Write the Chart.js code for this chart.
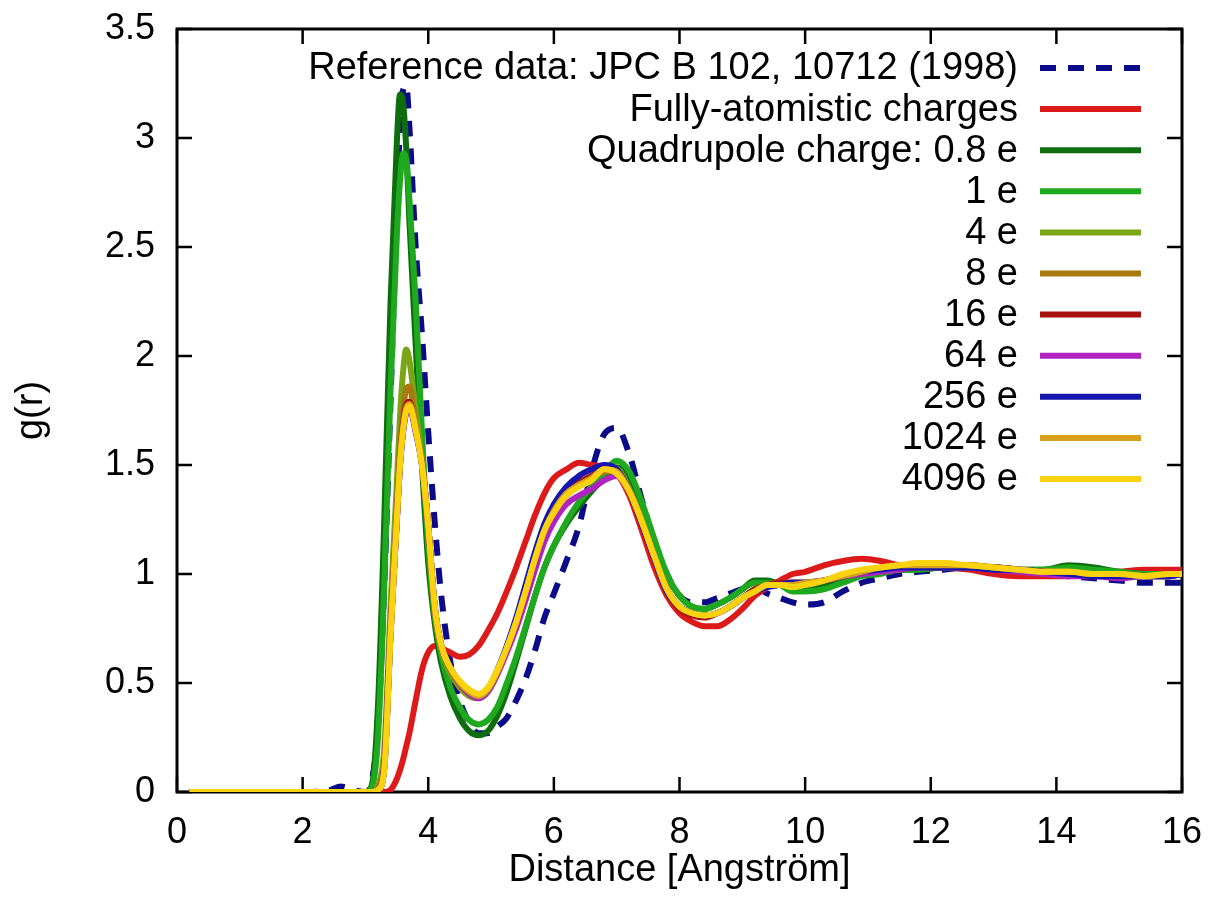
<!DOCTYPE html>
<html>
<head>
<meta charset="utf-8">
<script src="https://cdn.jsdelivr.net/npm/chart.js@4.4.1/dist/chart.umd.min.js"></script>
<style>
  body { margin: 0; background: #fff; }
  #rdf { display: block; }
</style>
</head>
<body>
<canvas id="rdf" width="1212" height="914"></canvas>
<script>
// distance grid (Angstrom) shared by all curves
const distance = [
  0.2, 1.0, 2.0, 2.4, 2.6, 2.8, 3.0, 3.1, 3.2, 3.3,
  3.4, 3.5, 3.55, 3.6, 3.65, 3.7, 3.8, 3.9, 4.0, 4.1,
  4.2, 4.35, 4.5, 4.65, 4.8, 4.95, 5.1, 5.25, 5.4, 5.55,
  5.7, 5.85, 6.0, 6.2, 6.4, 6.6, 6.8, 7.0, 7.2, 7.4,
  7.6, 7.8, 8.0, 8.2, 8.4, 8.6, 8.8, 9.0, 9.2, 9.4,
  9.6, 9.8, 10.0, 10.3, 10.6, 10.9, 11.2, 11.5, 11.8, 12.2,
  12.6, 13.0, 13.4, 13.8, 14.2, 14.6, 15.0, 15.4, 15.8, 16.0
];

const gRef = [
  0, 0, 0, 0.005, 0.025, 0.01, 0, 0.05, 0.3, 0.95,
  1.8, 2.7, 3.05, 3.22, 3.24, 3.05, 2.5, 2.1, 1.65, 1.25,
  0.92, 0.6, 0.42, 0.32, 0.27, 0.27, 0.3, 0.34, 0.42, 0.52,
  0.65, 0.8, 0.91, 1.06, 1.22, 1.47, 1.64, 1.67, 1.55, 1.34,
  1.15, 1.0, 0.9, 0.87, 0.87, 0.89, 0.91, 0.93, 0.94, 0.91,
  0.89, 0.87, 0.86, 0.87, 0.92, 0.96, 0.98, 1.0, 1.01, 1.02,
  1.03, 1.03, 1.02, 1.0, 0.99, 0.98, 0.97, 0.96, 0.96, 0.96
];
const gAtomistic = [
  0, 0, 0, 0, 0, 0, 0, 0, 0, 0,
  0.01, 0.06, 0.1, 0.15, 0.21, 0.27, 0.42, 0.56, 0.64, 0.67,
  0.66, 0.64, 0.62, 0.63, 0.67, 0.74, 0.82, 0.92, 1.03, 1.15,
  1.27, 1.37, 1.44, 1.48, 1.51, 1.5, 1.49, 1.46, 1.36, 1.2,
  1.03, 0.9, 0.82, 0.78, 0.76, 0.76, 0.79, 0.84, 0.9, 0.94,
  0.97, 1.0, 1.01, 1.04, 1.06, 1.07, 1.06, 1.04, 1.03, 1.03,
  1.02, 1.0, 0.99, 0.99, 0.99, 1.0, 1.01, 1.02, 1.02, 1.02
];
const gQ08 = [
  0, 0, 0, 0, 0, 0, 0, 0.03, 0.4, 1.25,
  2.25, 2.98, 3.2, 3.16, 2.95, 2.62, 2.05, 1.5, 1.05, 0.78,
  0.6, 0.44, 0.34, 0.28, 0.26, 0.28, 0.35, 0.46, 0.6, 0.75,
  0.9, 1.03, 1.13, 1.23, 1.31, 1.38, 1.44, 1.49, 1.45, 1.3,
  1.14, 0.99, 0.9, 0.85, 0.84, 0.86, 0.89, 0.93, 0.97, 0.97,
  0.95, 0.93, 0.93, 0.95, 0.98, 1.0, 1.01, 1.02, 1.02, 1.03,
  1.03, 1.03, 1.02, 1.02, 1.04, 1.03, 1.01, 1.0, 1.0, 1.0
];
const gQ1 = [
  0, 0, 0, 0, 0, 0, 0, 0.02, 0.25, 0.95,
  1.85, 2.55, 2.8, 2.93, 2.9, 2.72, 2.25, 1.65, 1.13, 0.82,
  0.64, 0.48, 0.39, 0.33, 0.31, 0.33, 0.39, 0.5, 0.62, 0.76,
  0.9, 1.03, 1.13, 1.24, 1.33, 1.4, 1.46, 1.52, 1.47, 1.33,
  1.16, 1.0, 0.9, 0.85, 0.84, 0.86, 0.89, 0.93, 0.96, 0.96,
  0.95, 0.92, 0.92, 0.93, 0.96, 0.99, 1.0, 1.02, 1.02, 1.03,
  1.03, 1.03, 1.02, 1.02, 1.03, 1.02, 1.01, 1.0, 1.0, 1.0
];
const gQ4 = [
  0, 0, 0, 0, 0, 0, 0, 0, 0.03, 0.2,
  0.85, 1.42, 1.72, 1.93, 2.03, 1.98, 1.75, 1.52, 1.2, 0.84,
  0.66, 0.55, 0.48, 0.44, 0.43, 0.46, 0.54, 0.65, 0.77, 0.91,
  1.06, 1.19, 1.28, 1.36, 1.41, 1.44, 1.47, 1.48, 1.39, 1.25,
  1.08, 0.93, 0.85, 0.82, 0.81, 0.82, 0.85, 0.89, 0.93, 0.95,
  0.95, 0.95, 0.95, 0.97, 0.99, 1.01, 1.02, 1.03, 1.04, 1.04,
  1.04, 1.03, 1.02, 1.01, 1.01, 1.0, 1.0, 0.99, 0.99, 1.0
];
const gQ8 = [
  0, 0, 0, 0, 0, 0, 0, 0, 0.02, 0.15,
  0.78, 1.3, 1.57, 1.75, 1.85, 1.86, 1.68, 1.52, 1.22, 0.85,
  0.67, 0.56, 0.49, 0.45, 0.44, 0.47, 0.55, 0.66, 0.78, 0.92,
  1.06, 1.19, 1.28, 1.36, 1.41, 1.44, 1.47, 1.47, 1.38, 1.24,
  1.08, 0.93, 0.85, 0.82, 0.81, 0.82, 0.85, 0.89, 0.92, 0.95,
  0.96, 0.96, 0.96, 0.97, 0.99, 1.01, 1.02, 1.03, 1.04, 1.04,
  1.04, 1.03, 1.02, 1.01, 1.0, 1.0, 1.0, 0.99, 1.0, 1.0
];
const gQ16 = [
  0, 0, 0, 0, 0, 0, 0, 0, 0.01, 0.12,
  0.74, 1.26, 1.52, 1.69, 1.78, 1.79, 1.66, 1.51, 1.22, 0.86,
  0.68, 0.57, 0.5, 0.46, 0.44, 0.47, 0.55, 0.65, 0.77, 0.91,
  1.06, 1.19, 1.28, 1.37, 1.42, 1.45, 1.48, 1.47, 1.38, 1.23,
  1.07, 0.92, 0.84, 0.81, 0.8, 0.82, 0.85, 0.89, 0.93, 0.95,
  0.96, 0.96, 0.96, 0.97, 0.99, 1.01, 1.02, 1.03, 1.03, 1.04,
  1.03, 1.03, 1.02, 1.01, 1.0, 1.0, 0.99, 0.99, 0.99, 1.0
];
const gQ64 = [
  0, 0, 0, 0, 0, 0, 0, 0, 0.01, 0.11,
  0.72, 1.24, 1.49, 1.65, 1.74, 1.76, 1.65, 1.5, 1.22, 0.86,
  0.68, 0.57, 0.5, 0.45, 0.43, 0.46, 0.54, 0.64, 0.75, 0.88,
  1.02, 1.15, 1.24, 1.32, 1.36, 1.39, 1.43, 1.45, 1.38, 1.24,
  1.08, 0.93, 0.85, 0.82, 0.81, 0.82, 0.85, 0.89, 0.92, 0.94,
  0.95, 0.96, 0.96, 0.97, 0.99, 1.0, 1.01, 1.02, 1.03, 1.03,
  1.03, 1.02, 1.01, 1.0, 0.99, 0.99, 0.98, 0.99, 0.99, 1.0
];
const gQ256 = [
  0, 0, 0, 0, 0, 0, 0, 0, 0.01, 0.11,
  0.73, 1.25, 1.5, 1.66, 1.75, 1.77, 1.66, 1.5, 1.22, 0.86,
  0.68, 0.57, 0.5, 0.46, 0.44, 0.47, 0.56, 0.67, 0.8, 0.95,
  1.1, 1.23, 1.32, 1.4, 1.45, 1.48, 1.5, 1.48, 1.38, 1.23,
  1.07, 0.92, 0.85, 0.82, 0.81, 0.82, 0.85, 0.89, 0.92, 0.94,
  0.95, 0.96, 0.96, 0.97, 0.99, 1.01, 1.02, 1.03, 1.03, 1.03,
  1.03, 1.02, 1.02, 1.01, 1.0, 0.99, 0.99, 0.99, 0.99, 1.0
];
const gQ1024 = [
  0, 0, 0, 0, 0, 0, 0, 0, 0.01, 0.11,
  0.73, 1.26, 1.51, 1.67, 1.76, 1.78, 1.67, 1.5, 1.22, 0.86,
  0.68, 0.57, 0.5, 0.46, 0.44, 0.47, 0.55, 0.66, 0.78, 0.92,
  1.07, 1.2, 1.29, 1.37, 1.41, 1.44, 1.48, 1.47, 1.38, 1.24,
  1.08, 0.93, 0.85, 0.82, 0.81, 0.82, 0.85, 0.89, 0.92, 0.95,
  0.95, 0.95, 0.96, 0.97, 0.99, 1.01, 1.03, 1.04, 1.04, 1.04,
  1.04, 1.03, 1.02, 1.01, 1.01, 1.0, 1.0, 0.99, 1.0, 1.0
];
const gQ4096 = [
  0, 0, 0, 0, 0, 0, 0, 0, 0.01, 0.1,
  0.72, 1.25, 1.5, 1.66, 1.75, 1.77, 1.66, 1.5, 1.22, 0.86,
  0.68, 0.57, 0.51, 0.47, 0.45, 0.48, 0.56, 0.66, 0.78, 0.92,
  1.07, 1.2, 1.28, 1.36, 1.4, 1.43, 1.48, 1.46, 1.38, 1.24,
  1.08, 0.93, 0.85, 0.82, 0.81, 0.82, 0.85, 0.89, 0.92, 0.95,
  0.95, 0.94, 0.95, 0.97, 1.0, 1.02, 1.03, 1.04, 1.05, 1.05,
  1.04, 1.03, 1.02, 1.01, 1.01, 1.0, 1.0, 0.99, 1.0, 1.0
];

const seriesLabels = [
  'Reference data: JPC B 102, 10712 (1998)',
  'Fully-atomistic charges',
  'Quadrupole charge: 0.8 e',
  '1 e', '4 e', '8 e', '16 e', '64 e', '256 e', '1024 e', '4096 e'
];
const seriesValues = [gRef, gAtomistic, gQ08, gQ1, gQ4, gQ8, gQ16, gQ64, gQ256, gQ1024, gQ4096];
const seriesColors = [
  '#0b0b8a', '#dd1a1a', '#0e6e0e', '#1fa91f', '#7aa615', '#a9780f',
  '#a8120e', '#b023c0', '#1616ae', '#d6a01c', '#fbd20f'
];

const xTicks = [0, 2, 4, 6, 8, 10, 12, 14, 16];
const yTicks = [0, 0.5, 1, 1.5, 2, 2.5, 3, 3.5];

const FONT = '"Liberation Sans", Arial, sans-serif';

// gnuplot-like frame with inward ticks on all four sides
const framePlugin = {
  id: 'frame',
  beforeDatasetsDraw(chart) {
    const ctx = chart.ctx;
    const a = chart.chartArea;
    const xs = chart.scales.x, ys = chart.scales.y;
    const len = 15;
    ctx.save();
    ctx.strokeStyle = '#000';
    ctx.lineWidth = 2.5;
    ctx.beginPath();
    xTicks.forEach(v => {
      const px = xs.getPixelForValue(v);
      ctx.moveTo(px, a.bottom); ctx.lineTo(px, a.bottom - len);
      ctx.moveTo(px, a.top); ctx.lineTo(px, a.top + len);
    });
    yTicks.forEach(v => {
      const py = ys.getPixelForValue(v);
      ctx.moveTo(a.left, py); ctx.lineTo(a.left + len, py);
      ctx.moveTo(a.right, py); ctx.lineTo(a.right - len, py);
    });
    ctx.stroke();
    ctx.lineWidth = 3;
    ctx.strokeRect(a.left, a.top, a.right - a.left, a.bottom - a.top);
    ctx.restore();
  }
};

// key in the top right corner: text right aligned, sample line after it
const keyPlugin = {
  id: 'key',
  afterDraw(chart) {
    const ctx = chart.ctx;
    const a = chart.chartArea;
    ctx.save();
    ctx.font = '38px ' + FONT;
    ctx.textAlign = 'right';
    ctx.textBaseline = 'middle';
    ctx.fillStyle = '#000';
    chart.data.datasets.forEach((ds, i) => {
      const y = a.top + 39 + i * 41.1;
      ctx.fillText(ds.label, a.right - 164, y + 1);
      ctx.strokeStyle = ds.borderColor;
      ctx.lineWidth = ds.borderWidth;
      ctx.setLineDash(ds.borderDash || []);
      ctx.beginPath();
      ctx.moveTo(a.right - 142, y);
      ctx.lineTo(a.right - 41, y);
      ctx.stroke();
    });
    ctx.restore();
  }
};

const datasets = seriesValues.map((vals, i) => ({
  label: seriesLabels[i],
  data: distance.map((x, k) => ({ x: x, y: vals[k] })),
  borderColor: seriesColors[i],
  borderWidth: 6,
  borderDash: i === 0 ? [16, 12] : [],
  borderCapStyle: 'butt',
  fill: false,
  order: seriesValues.length - i
}));

new Chart(document.getElementById('rdf'), {
  type: 'line',
  data: { datasets: datasets },
  options: {
    responsive: false,
    animation: false,
    layout: { padding: { left: 0, right: 30, top: 29, bottom: 0 } },
    elements: {
      point: { radius: 0 },
      line: { cubicInterpolationMode: 'monotone' }
    },
    plugins: {
      legend: { display: false },
      tooltip: { enabled: false }
    },
    scales: {
      x: {
        type: 'linear',
        min: 0,
        max: 16,
        afterBuildTicks: s => { s.ticks = xTicks.map(v => ({ value: v })); },
        afterFit: s => { s.height = 122; s.paddingLeft = 0; s.paddingRight = 0; },
        grid: { display: false, drawTicks: false },
        border: { display: false },
        ticks: { padding: 19, color: '#000', font: { family: FONT, size: 36 }, callback: v => String(v) },
        title: {
          display: true,
          text: 'Distance [Angström]',
          color: '#000',
          font: { family: FONT, size: 38 },
          padding: { top: 0, bottom: 21 }
        }
      },
      y: {
        min: 0,
        max: 3.5,
        afterBuildTicks: s => { s.ticks = yTicks.map(v => ({ value: v })); },
        afterFit: s => { s.width = 177; s.paddingTop = 0; s.paddingBottom = 0; },
        grid: { display: false, drawTicks: false },
        border: { display: false },
        ticks: { padding: 22, color: '#000', font: { family: FONT, size: 36 }, callback: v => String(v) },
        title: {
          display: true,
          text: 'g(r)',
          color: '#000',
          font: { family: FONT, size: 38 },
          padding: { top: 9, bottom: 0 }
        }
      }
    }
  },
  plugins: [framePlugin, keyPlugin]
});
</script>
</body>
</html>
